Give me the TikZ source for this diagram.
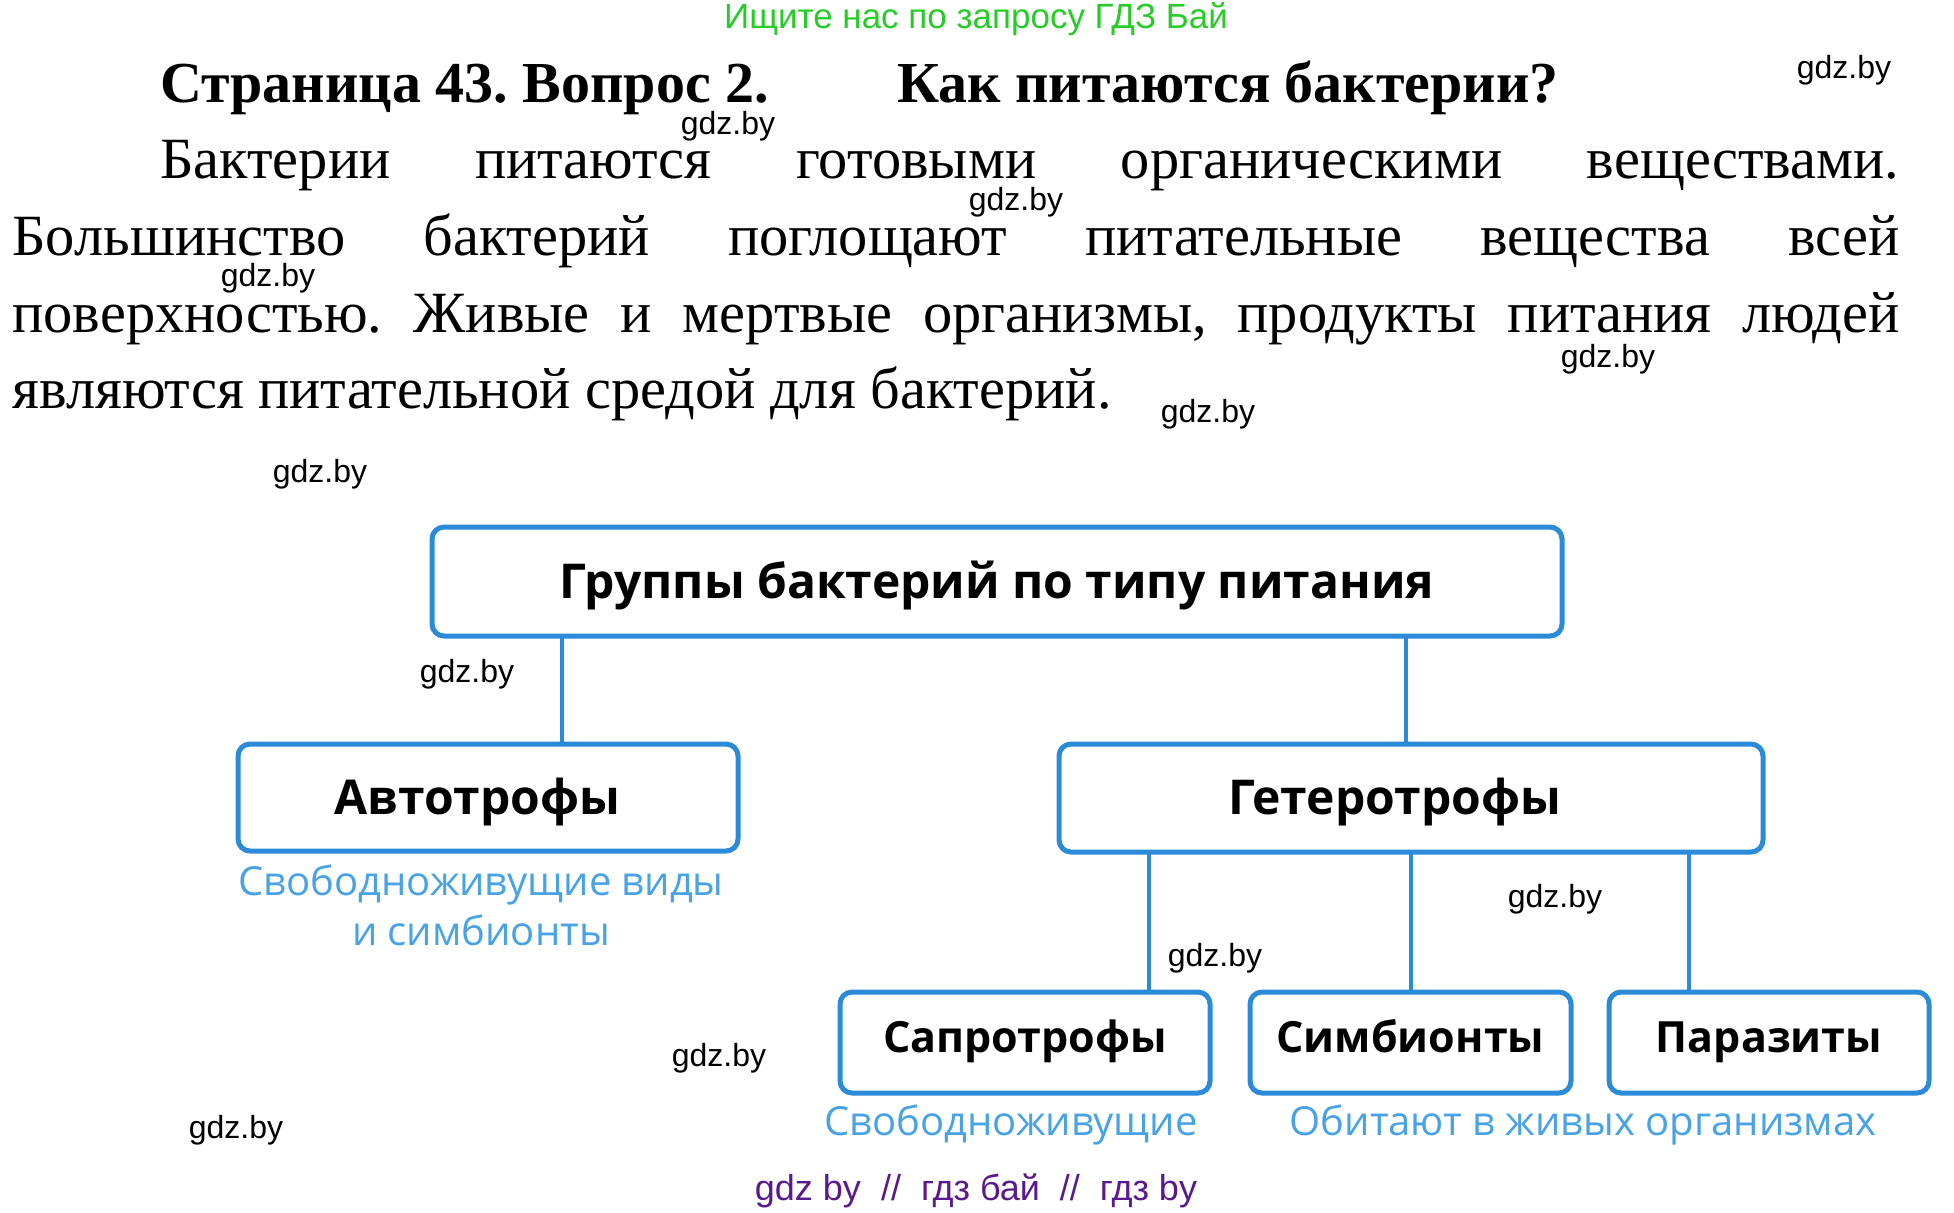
\documentclass[tikz,border=0pt]{standalone}
\usepackage{fontspec}
\setmainfont{Liberation Serif}
\newfontfamily\wmfont{Liberation Sans}
\newfontfamily\boxfont{Open Sans}
\usetikzlibrary{positioning}
\frenchspacing

\begin{document}
\begin{tikzpicture}[x=0.5pt,y=-0.5pt,line cap=round]
  \tikzset{
    group/.style={draw=boxblue, line width=2.5pt, rounded corners=6pt, fill=white,
      font=\boxfont\bfseries\fontsize{24}{28}\selectfont, inner sep=0pt,
      text height=16.6pt, text depth=0pt},
    small group/.style={group, font=\boxfont\bfseries\fontsize{21.5}{26}\selectfont,
      text height=9.6pt},
    link/.style={draw=boxblue, line width=2pt},
    note/.style={font=\boxfont\fontsize{20}{25}\selectfont, text=noteblue, align=center, inner sep=0pt},
    wm/.style={font=\wmfont\fontsize{16}{18}\selectfont, inner sep=0pt},
    line/.style={anchor=base west, inner sep=0pt, font=\fontsize{29.2}{34}\selectfont}
  }
  \definecolor{boxblue}{RGB}{43,139,217}
  \definecolor{noteblue}{RGB}{72,162,230}
  \definecolor{adgreen}{RGB}{40,204,40}
  \definecolor{adpurple}{RGB}{90,25,140}

  \useasboundingbox (0,0) rectangle (1954,1212);

  % Header
  \node[font=\wmfont\fontsize{17.5}{20}\selectfont, text=adgreen, inner sep=0pt] (ad) at (976,19) {Ищите нас по запросу ГДЗ Бай};
  \node[line, font=\bfseries\fontsize{29}{34}\selectfont] (page) at (160,102) {Страница 43. Вопрос 2.};
  \node[line, font=\bfseries\fontsize{29}{34}\selectfont] (question) at (897,102) {Как питаются бактерии?};

  % Answer text
  \node[line] (l1) at (160,178) {\makebox[869.5pt][s]{Бактерии питаются готовыми органическими веществами.}};
  \node[line] (l2) at (12,255) {\makebox[943.5pt][s]{Большинство бактерий поглощают питательные вещества всей}};
  \node[line] (l3) at (12,332) {\makebox[943.5pt][s]{поверхностью. Живые и мертвые организмы, продукты питания людей}};
  \node[line] (l4) at (12,408) {являются питательной средой для бактерий.};

  % Scheme boxes
  \node[group, minimum width=565pt, minimum height=54.5pt] (top) at (997,581.5) {Группы бактерий по типу питания};
  \node[group, minimum width=250pt, minimum height=53.5pt] (auto) at (488,797.5) {Автотрофы\kern10.5pt};
  \node[group, minimum width=352pt, minimum height=54pt] (hetero) at (1411,798) {Гетеротрофы\kern16pt};
  \node[small group, minimum width=185pt, minimum height=50.5pt] (sapro) at (1025,1042.5) {Сапротрофы};
  \node[small group, minimum width=160.5pt, minimum height=50.5pt] (symb) at (1410.5,1042.5) {Симбионты};
  \node[small group, minimum width=160pt, minimum height=50.5pt] (para) at (1769,1042.5) {Паразиты};

  % Links
  \coordinate (xa) at (562,0);
  \coordinate (xh) at (1406,0);
  \coordinate (xs) at (1149,0);
  \coordinate (xp) at (1689,0);
  \draw[link] (top.south -| xa) -- (auto.north -| xa);
  \draw[link] (top.south -| xh) -- (hetero.north -| xh);
  \draw[link] (hetero.south -| xs) -- (sapro.north -| xs);
  \draw[link] (hetero.south -| symb) -- (symb.north);
  \draw[link] (hetero.south -| xp) -- (para.north -| xp);

  % Notes
  \node[note] (autonote) at (481,905) {Свободноживущие виды\\и симбионты};
  \node[note] (sapronote) at (1011,1125) {Свободноживущие};
  \node[note] (symbnote) at (1583,1125) {Обитают в живых организмах};

  % Watermarks
  \foreach \x/\y [count=\i] in {1844/70, 728/126, 1016/202, 268/278, 1608/359, 1208/414,
    320/474, 467/674, 1555/899, 1215/958, 719/1058, 236/1130}
    \node[wm] (wm\i) at (\x,\y) {gdz.by};
  \node[wm, font=\wmfont\fontsize{18}{20}\selectfont, text=adpurple] (site) at (976,1191) {gdz by \ // \ гдз бай \ // \ гдз by};
\end{tikzpicture}
\end{document}
